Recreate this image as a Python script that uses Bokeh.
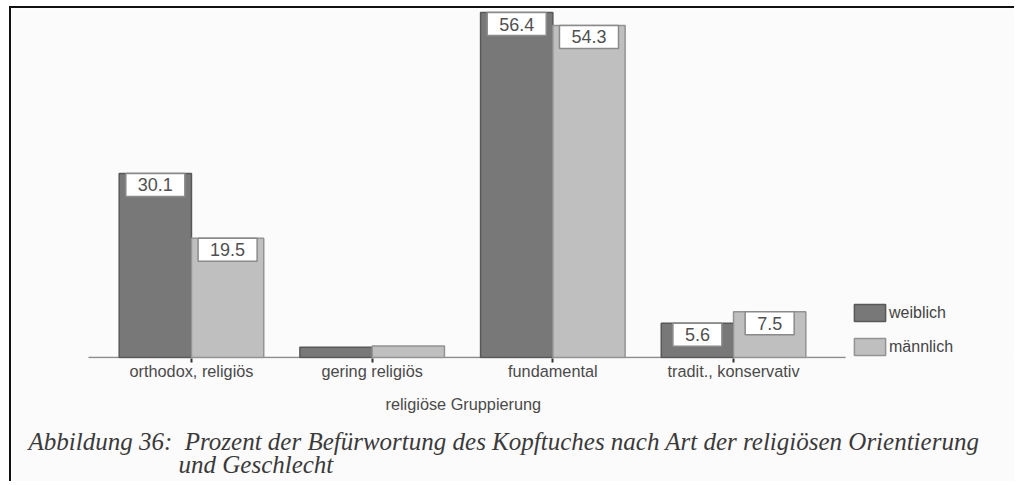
from bokeh.plotting import figure
from bokeh.models import ColumnDataSource, Range1d, Legend, LegendItem, Title, FixedTicker
from bokeh.core.properties import value
from bokeh.embed import file_html
from bokeh.resources import INLINE

# ---- data ----
categories = ["orthodox, religiös", "gering religiös", "fundamental", "tradit., konservativ"]
weiblich = [30.1, 1.7, 56.4, 5.6]
maennlich = [19.5, 1.9, 54.3, 7.5]
labels_w = ["30.1", "", "56.4", "5.6"]
labels_m = ["19.5", "", "54.3", "7.5"]
series = ["weiblich", "männlich"]
axis_title = "religiöse Gruppierung"
caption_head = "Abbildung 36:"
caption_line1 = "Prozent der Befürwortung des Kopftuches nach Art der religiösen Orientierung"
caption_line2 = "und Geschlecht"

SANS = "Liberation Sans"
SERIF = "Liberation Serif"
BG = "#fbfbfb"
C_W, L_W = "#787878", "#585858"
C_M, L_M = "#bfbfbf", "#939393"
BAR_W = 0.4          # bar width in category units
BASE_FROM, BASE_TO = -0.57, 3.62   # extent of the base line (category units)

idx = list(range(len(categories)))
src = ColumnDataSource(dict(
    xw=[i - BAR_W / 2 for i in idx], xm=[i + BAR_W / 2 for i in idx],
    w=weiblich, m=maennlich))
lab_w = ColumnDataSource(dict(
    x=[i - BAR_W / 2 for i, t in zip(idx, labels_w) if t],
    v=[v for v, t in zip(weiblich, labels_w) if t],
    t=[t for t in labels_w if t]))
lab_m = ColumnDataSource(dict(
    x=[i + BAR_W / 2 for i, t in zip(idx, labels_m) if t],
    v=[v for v, t in zip(maennlich, labels_m) if t],
    t=[t for t in labels_m if t]))

p = figure(width=1005, height=475,
           x_range=Range1d(-0.996, 4.566), y_range=Range1d(-0.15, 57.07),
           y_axis_location=None, toolbar_location=None, output_backend="svg",
           min_border_left=0, min_border_right=0, min_border_top=0, min_border_bottom=125,
           background_fill_color=BG, border_fill_color=BG, outline_line_color=None)
p.styles = {"border-top": "2px solid #111", "border-left": "2px solid #111",
            "margin-left": "9px", "margin-top": "6px"}
p.grid.visible = False

# base line
p.segment(x0=[BASE_FROM], x1=[BASE_TO], y0=[0], y1=[0], line_color="#8c8c8c", line_width=1.5)

rw = p.vbar(x="xw", top="w", width=BAR_W, source=src,
            fill_color=C_W, line_color=L_W, line_width=1.5)
rm = p.vbar(x="xm", top="m", width=BAR_W, source=src,
            fill_color=C_M, line_color=L_M, line_width=1.5)

for s in (lab_w, lab_m):
    p.text(x="x", y="v", text="t", source=s,
           text_align="center", text_baseline="top", y_offset=0,
           text_font=value(SANS), text_font_size="18px", text_color="#505050",
           background_fill_color="white", border_line_color="#8a8a8a", border_line_width=1.5,
           padding=(12, 5))

ax = p.xaxis[0]
ax.ticker = FixedTicker(ticks=idx)
ax.major_label_overrides = {i: c for i, c in zip(idx, categories)}
ax.axis_line_color = None
ax.major_tick_line_color = "#333333"
ax.major_tick_line_width = 2
ax.major_tick_in = 0
ax.major_tick_out = 4
ax.minor_tick_line_color = None
ax.major_label_text_font = SANS
ax.major_label_text_font_size = "16.3px"
ax.major_label_text_color = "#4a4a4a"
ax.major_label_standoff = -1

legend = Legend(items=[LegendItem(label=series[0], renderers=[rw]),
                       LegendItem(label=series[1], renderers=[rm])],
                location=(839, 1), padding=0, margin=0, spacing=13,
                glyph_width=39, glyph_height=21, label_standoff=0,
                label_text_font=SANS, label_text_font_size="16px", label_text_color="#444444",
                border_line_color=None, background_fill_alpha=0)
p.add_layout(legend, "center")

t0 = Title(text=axis_title, align="left", offset=374,
           text_font=SANS, text_font_style="normal", text_font_size="16.3px",
           text_color="#4a4a4a", standoff=21)
p.add_layout(t0, "below")
t1 = Title(text=caption_head + "\u2002" + caption_line1 + "\n" + "\u2002" * 12 + caption_line2,
           align="left", offset=17,
           text_font=SERIF, text_font_style="italic", text_font_size="25px",
           text_line_height=0.86, text_color="#3a3a3a", standoff=5)
p.add_layout(t1, "below")

open("out.html", "w").write(file_html(p, INLINE))
